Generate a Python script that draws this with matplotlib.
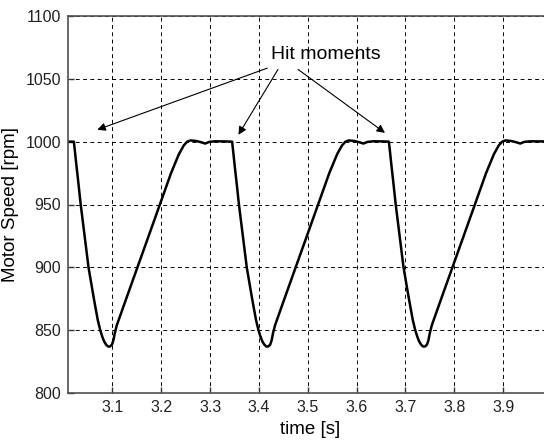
import matplotlib
matplotlib.use("Agg")
import matplotlib.pyplot as plt

plt.rcParams['font.family'] = ['Liberation Sans', 'DejaVu Sans']

# Motor speed curve, three hit cycles
time_s = [
    3.009, 3.021, 3.023, 3.026, 3.030, 3.035, 3.043, 3.051, 3.062, 3.070,
    3.075, 3.079, 3.083, 3.087, 3.091, 3.095, 3.099, 3.102, 3.105, 3.109,
    3.130, 3.153, 3.176, 3.198, 3.220, 3.236, 3.246, 3.253, 3.260, 3.272,
    3.282, 3.290, 3.298, 3.310, 3.330,
    3.345, 3.347, 3.350, 3.354, 3.359, 3.367, 3.375, 3.386, 3.394,
    3.399, 3.403, 3.407, 3.411, 3.415, 3.419, 3.423, 3.426, 3.429, 3.433,
    3.454, 3.477, 3.500, 3.522, 3.544, 3.560, 3.570, 3.577, 3.584, 3.596,
    3.606, 3.614, 3.622, 3.634, 3.654,
    3.666, 3.668, 3.671, 3.675, 3.680, 3.688, 3.696, 3.707, 3.715,
    3.720, 3.724, 3.728, 3.732, 3.736, 3.740, 3.744, 3.747, 3.750, 3.754,
    3.775, 3.798, 3.821, 3.843, 3.865, 3.881, 3.891, 3.898, 3.905, 3.917,
    3.927, 3.935, 3.943, 3.955, 3.975, 3.995,
]
speed_rpm = [
    1000, 1000, 993, 982, 968, 950, 925, 900, 875, 858,
    850, 845, 841, 838.5, 837, 837, 838.5, 842, 848, 854,
    877, 902, 927, 951, 975, 990, 997, 1000, 1001, 1000.5,
    999.5, 998.5, 999.8, 1000.3, 1000.2,
    1000, 993, 982, 968, 950, 925, 900, 875, 858,
    850, 845, 841, 838.5, 837, 837, 838.5, 842, 848, 854,
    877, 902, 927, 951, 975, 990, 997, 1000, 1001, 1000.5,
    999.5, 998.5, 999.8, 1000.3, 1000.2,
    1000, 993, 982, 968, 950, 925, 900, 875, 858,
    850, 845, 841, 838.5, 837, 837, 838.5, 842, 848, 854,
    877, 902, 927, 951, 975, 990, 997, 1000, 1001, 1000.5,
    999.5, 998.5, 999.8, 1000.3, 1000.2, 1000.2,
]

x_ticks = [3.1, 3.2, 3.3, 3.4, 3.5, 3.6, 3.7, 3.8, 3.9]
y_ticks = [800, 850, 900, 950, 1000, 1050, 1100]

annotation_text = "Hit moments"
annotation_xy = (3.536, 1069)
hit_tips = [(3.069, 1009.5), (3.358, 1005.5), (3.658, 1007)]
hit_tails = [(3.417, 1058.5), (3.439, 1057.5), (3.480, 1057.5)]

fig = plt.figure(figsize=(5.44, 4.45), dpi=100)
ax = fig.add_axes([68/544, 1 - 393/445, (552-68)/544, (393-16)/445])

ax.plot(time_s, speed_rpm, color='black', lw=1.8, solid_joinstyle='round')

ax.set_xlim(3.009, 4.0)
ax.set_ylim(800, 1100)
ax.set_xticks(x_ticks)
ax.set_yticks(y_ticks)
ax.set_xticklabels([f"{v:.1f}" for v in x_ticks])
ax.set_yticklabels([str(v) for v in y_ticks])

ax.grid(True, color='black', linestyle=(0, (4, 3.5)), lw=0.7)
ax.set_axisbelow(True)
for sp in ax.spines.values():
    sp.set_color('#505050')
    sp.set_linewidth(1.2)
ax.tick_params(direction='in', length=4, width=1, color='#303030',
               labelsize=11.5, labelcolor='#222222', pad=5)

ax.set_xlabel("time [s]", fontsize=13.5, labelpad=4)
ax.set_ylabel("Motor Speed [rpm]", fontsize=13.5, labelpad=5)

ax.text(annotation_xy[0], annotation_xy[1], annotation_text, fontsize=14,
        ha='center', va='center')
for tip, tail in zip(hit_tips, hit_tails):
    ax.annotate("", xy=tip, xytext=tail,
                arrowprops=dict(arrowstyle='-|>', color='black', lw=0.8,
                                mutation_scale=12, shrinkA=0, shrinkB=0))

fig.savefig("out.png", dpi=100)
